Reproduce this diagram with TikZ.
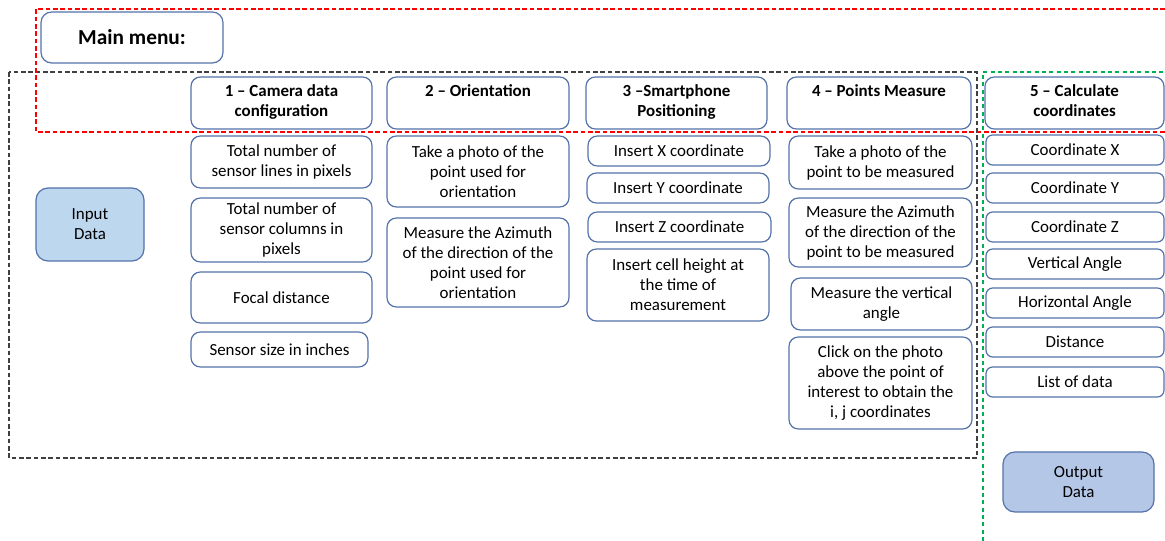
\documentclass[tikz,border=0pt]{standalone}
\usepackage{fontspec}
\setmainfont{Carlito}
\definecolor{bord}{RGB}{84,114,170}
\definecolor{infill}{RGB}{189,215,238}
\definecolor{outfill}{RGB}{180,199,231}
\definecolor{grn}{RGB}{0,176,80}
\definecolor{frame}{RGB}{64,64,64}
\newcommand{\bx}[7][]{%
  \pgfmathsetmacro{\bxw}{(#5-#3)*0.75}%
  \pgfmathsetmacro{\bxh}{(#6-#4)*0.75}%
  \node[box,minimum width=\bxw pt,minimum height=\bxh pt,#1] (#2) at ({(#3+#5)/2},{(#4+#6)/2}) {#7};}
\newcommand{\hd}[4]{%
  \bx[inner sep=0pt]{#1}{#2}{77}{#3}{129}{\parbox[c][\bxh pt][t]{\bxw pt}{\vspace*{6pt}\centering\bfseries #4\par}}}
\begin{document}
\begin{tikzpicture}[x=0.75pt,y=-0.75pt,
  box/.style={draw=bord,line width=0.9pt,rounded corners=7pt,fill=white,align=center,inner sep=1pt,
    font=\fontsize{12.7pt}{15pt}\selectfont},
  blkframe/.style={draw=frame,line width=0.8pt,dash pattern=on 3.5pt off 2pt},
  redframe/.style={draw=red,line width=0.8pt,dash pattern=on 3.5pt off 2pt},
  grnframe/.style={draw=grn,line width=0.8pt,dash pattern=on 3pt off 2.5pt}]
\useasboundingbox (0,0) rectangle (1165,541);
% frames
\draw[blkframe] (9,72) rectangle (977,458);
\draw[redframe] (1165,9) -- (36,9) -- (36,132) -- (1165,132);
\draw[grnframe] (983,541) -- (983,72) -- (1165,72);
% main menu
\bx[rounded corners=8pt,font=\fontsize{16pt}{19pt}\selectfont\bfseries]{menu}{41}{12}{223}{63}{Main menu:}
% headers
\hd{h1}{191}{372}{1 -- Camera data\\configuration}
\hd{h2}{387}{569}{2 -- Orientation}
\hd{h3}{586}{767}{3 --Smartphone\\Positioning}
\hd{h4}{787}{971}{4 -- Points Measure}
\hd{h5}{985}{1164}{5 -- Calculate\\coordinates}
% input / output
\bx[fill=infill,rounded corners=9pt]{in}{36}{188}{144}{261}{Input\\Data}
\bx[fill=outfill,rounded corners=9pt]{out}{1003}{452}{1154}{512}{Output\\Data}
% column 1
\bx{c1a}{191}{136}{372}{188}{Total number of\\sensor lines in pixels}
\bx{c1b}{191}{198}{372}{262}{Total number of\\sensor columns in\\pixels}
\bx{c1c}{191}{272}{372}{323}{Focal distance}
\bx{c1d}{191}{332}{368}{367}{Sensor size in inches}
% column 2
\bx{c2a}{387}{136}{569}{207}{Take a photo of the\\point used for\\orientation}
\bx{c2b}{387}{218}{569}{307}{Measure the Azimuth\\of the direction of the\\point used for\\orientation}
% column 3
\bx{c3a}{588}{136}{770}{166}{Insert X coordinate}
\bx{c3b}{587}{173}{769}{203}{Insert Y coordinate}
\bx{c3c}{588}{212}{771}{242}{Insert Z coordinate}
\bx{c3d}{587}{249}{769}{321}{Insert cell height at\\the time of\\measurement}
% column 4
\bx{c4a}{789}{136}{972}{189}{Take a photo of the\\point to be measured}
\bx{c4b}{789}{198}{972}{267}{Measure the Azimuth\\of the direction of the\\point to be measured}
\bx{c4c}{791}{278}{972}{330}{Measure the vertical\\angle}
\bx{c4d}{789}{337}{972}{429}{Click on the photo\\above the point of\\interest to obtain the\\i, j coordinates}
% column 5
\bx[rounded corners=5pt]{c5a}{986}{135}{1164}{165}{Coordinate X}
\bx[rounded corners=5pt]{c5b}{986}{173}{1164}{203}{Coordinate Y}
\bx[rounded corners=5pt]{c5c}{986}{212}{1164}{242}{Coordinate Z}
\bx[rounded corners=5pt]{c5d}{986}{249}{1164}{279}{Vertical Angle}
\bx[rounded corners=5pt]{c5e}{986}{288}{1164}{318}{Horizontal Angle}
\bx[rounded corners=5pt]{c5f}{986}{327}{1164}{357}{Distance}
\bx[rounded corners=5pt]{c5g}{986}{367}{1164}{397}{List of data}
\end{tikzpicture}
\end{document}
